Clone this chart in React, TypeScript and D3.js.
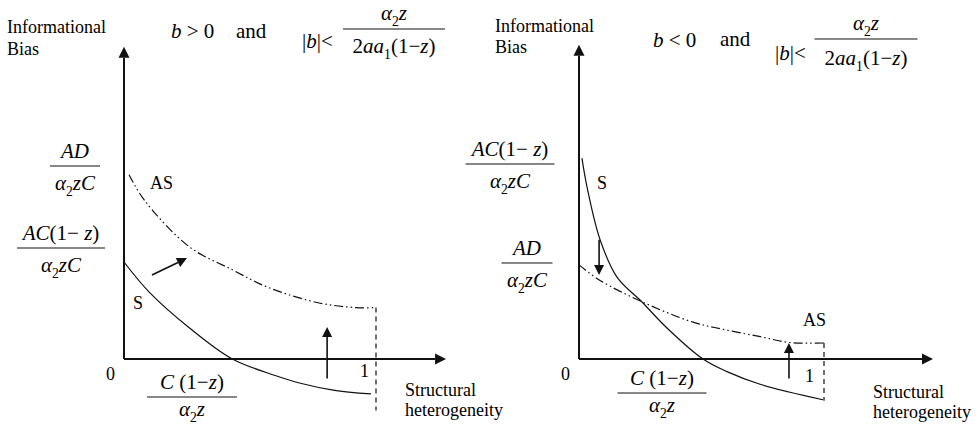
import React from 'react';
import * as d3 from 'd3';

// plain text only: scale transforms and letter spacing switch the font in this browser
const SERIF = 'Liberation Serif';

// curve points, [structural heterogeneity, informational bias]
const leftS = [[0, 1.0], [0.1, 0.69], [0.26, 0.32], [0.43, 0], [0.6, -0.17], [0.7, -0.25], [0.83, -0.32], [0.98, -0.36]];
const leftAS = [[0.02, 1.9], [0.08, 1.64], [0.26, 1.155], [0.43, 0.92], [0.57, 0.74], [0.77, 0.58], [0.92, 0.53], [1.0, 0.53]];
const rightS = [[0.012, 2.07], [0.033, 1.77], [0.086, 1.23], [0.155, 0.845], [0.257, 0.588], [0.359, 0.32], [0.506, 0], [0.604, -0.13], [0.739, -0.26], [0.996, -0.42]];
const rightAS = [[0.0, 0.97], [0.086, 0.81], [0.257, 0.59], [0.465, 0.38], [0.6, 0.3], [0.74, 0.23], [0.86, 0.17], [1.0, 0.165]];
// lower end of the dashed line at x = 1
const leftDashEnd = -0.53;
const rightDashEnd = -0.43;

// shift arrows [from, to]
const leftArrows = [[[0.111, 0.866], [0.25, 1.04]], [[0.806, -0.2], [0.806, 0.33]]];
const rightArrows = [[[0.082, 1.23], [0.082, 0.866]], [[0.857, -0.2], [0.857, 0.165]]];

// math tokens: r = roman, i = italic, s = subscript
const tAD = [['AD', 'i']];
const tA2zC = [['α', 'i'], ['2', 's'], ['zC', 'i']];
const tACz = [['AC', 'i'], ['(1− ', 'r'], ['z', 'i'], [')', 'r']];
const tCz = [['C', 'i'], [' (1−', 'r'], ['z', 'i'], [')', 'r']];
const tA2z = [['α', 'i'], ['2', 's'], ['z', 'i']];
const tDen = [['2', 'r'], ['aa', 'i'], ['1', 's'], ['(1−', 'r'], ['z', 'i'], [')', 'r']];
const tBpos = [['b', 'i'], [' > 0', 'r']];
const tBneg = [['b', 'i'], [' < 0', 'r']];
const tAbs = [['|', 'r'], ['b', 'i'], ['|<', 'r']];

function spans(tokens, size) {
  let shifted = false;
  return tokens.map(([txt, k], i) => {
    let dy = 0;
    if (k === 's' && !shifted) { dy = size * 0.3; shifted = true; }
    else if (k !== 's' && shifted) { dy = -size * 0.3; shifted = false; }
    return (
      <tspan key={i} dy={dy || undefined}
        fontStyle={k === 'i' ? 'italic' : 'normal'}
        fontSize={k === 's' ? size * 0.65 : size}>{txt}</tspan>
    );
  });
}

function MathText({ x, y, tokens, anchor = 'start', size = 21 }) {
  return (
    <text x={x} y={y} fontFamily={SERIF} fontSize={size} textAnchor={anchor}>
      {spans(tokens, size)}
    </text>
  );
}

function Frac({ cx, cy, num, den, w, size = 21, up = 8, down = 24 }) {
  return (
    <g>
      <MathText x={cx} y={cy - up} tokens={num} anchor="middle" size={size} />
      <line x1={cx - w / 2} x2={cx + w / 2} y1={cy} y2={cy} stroke="#111" strokeWidth={1.1} />
      <MathText x={cx} y={cy + down} tokens={den} anchor="middle" size={size} />
    </g>
  );
}

function Label({ x, y, children, size = 18 }) {
  return (
    <text x={x} y={y} fontFamily={SERIF} fontSize={size}>{children}</text>
  );
}

function head(x1, y1, x2, y2, len, half) {
  const a = Math.atan2(y2 - y1, x2 - x1);
  const bx = x2 - len * Math.cos(a), by = y2 - len * Math.sin(a);
  const px = -Math.sin(a) * half, py = Math.cos(a) * half;
  return { pts: `${x2},${y2} ${bx + px},${by + py} ${bx - px},${by - py}`, bx, by };
}

function Arrow({ x1, y1, x2, y2, len = 10, half = 5, sw = 1.6 }) {
  const h = head(x1, y1, x2, y2, len, half);
  return (
    <g>
      <line x1={x1} y1={y1} x2={h.bx} y2={h.by} stroke="#111" strokeWidth={sw} />
      <polygon points={h.pts} fill="#111" />
    </g>
  );
}

function Panel({ xr, sData, asData, dashEnd, arrows, yTop, xEnd }) {
  const x = d3.scaleLinear().domain([0, 1]).range(xr);
  const y = d3.scaleLinear().domain([0, 1]).range([359, 262]);
  const line = d3.line().x(d => x(d[0])).y(d => y(d[1])).curve(d3.curveCatmullRom.alpha(0.5));
  const asEnd = asData[asData.length - 1];
  return (
    <g>
      <Arrow x1={x(0)} y1={y(0)} x2={x(0)} y2={y(yTop)} len={11} half={5.5} sw={2} />
      <Arrow x1={x(0)} y1={y(0)} x2={x(xEnd)} y2={y(0)} len={11} half={5.5} sw={2} />
      <path d={line(sData)} fill="none" stroke="#111" strokeWidth={1.2} />
      <path d={line(asData)} fill="none" stroke="#111" strokeWidth={1.2} strokeDasharray="9,3,1.5,3,1.5,3" />
      <line x1={x(1)} x2={x(1)} y1={y(asEnd[1])} y2={y(dashEnd)} stroke="#111" strokeWidth={1.2} strokeDasharray="5,4" />
      {arrows.map((a, i) => (
        <Arrow key={i} x1={x(a[0][0])} y1={y(a[0][1])} x2={x(a[1][0])} y2={y(a[1][1])} len={10} half={5} sw={1.6} />
      ))}
      <Label x={x(0) - 18} y={y(0) + 21}>0</Label>
    </g>
  );
}

export default function App() {
  return (
    <svg width={980} height={425} style={{ position: 'absolute', left: 0, top: 0, background: '#fff' }}>
      <rect width={980} height={425} fill="#fff" />
      {/* left: b > 0 */}
      <Label x={7} y={33}>Informational</Label>
      <Label x={7} y={55}>Bias</Label>
      <MathText x={171} y={38} tokens={tBpos} />
      <MathText x={236} y={38} tokens={[['and', 'r']]} />
      <MathText x={302} y={48} tokens={tAbs} />
      <Frac cx={394} cy={29} num={tA2z} den={tDen} w={102} up={9} down={24} />
      <Panel xr={[124, 376]} sData={leftS} asData={leftAS} dashEnd={leftDashEnd} arrows={leftArrows} yTop={3.22} xEnd={1.278} />
      <Frac cx={75} cy={166} num={tAD} den={tA2zC} w={50} />
      <Frac cx={61} cy={248} num={tACz} den={tA2zC} w={88} />
      <Frac cx={192} cy={397} num={tCz} den={tA2z} w={90} down={19} />
      <Label x={150} y={189}>AS</Label>
      <Label x={133} y={309}>S</Label>
      <Label x={360} y={377}>1</Label>
      <Label x={405} y={396}>Structural</Label>
      <Label x={405} y={416}>heterogeneity</Label>

      {/* right: b < 0 */}
      <Label x={495} y={32}>Informational</Label>
      <Label x={495} y={53}>Bias</Label>
      <MathText x={653} y={47} tokens={tBneg} />
      <MathText x={720} y={46} tokens={[['and', 'r']]} />
      <MathText x={775} y={60} tokens={tAbs} />
      <Frac cx={866} cy={39} num={tA2z} den={tDen} w={103} up={9} down={26} />
      <Panel xr={[579, 824]} sData={rightS} asData={rightAS} dashEnd={rightDashEnd} arrows={rightArrows} yTop={3.24} xEnd={1.445} />
      <Frac cx={510} cy={164} num={tACz} den={tA2zC} w={89} />
      <Frac cx={527} cy={263} num={tAD} den={tA2zC} w={51} />
      <Frac cx={662} cy={393} num={tCz} den={tA2z} w={89} down={19} />
      <Label x={597} y={189}>S</Label>
      <Label x={803} y={326}>AS</Label>
      <Label x={805} y={382}>1</Label>
      <Label x={873} y={398}>Structural</Label>
      <Label x={873} y={418}>heterogeneity</Label>
    </svg>
  );
}
